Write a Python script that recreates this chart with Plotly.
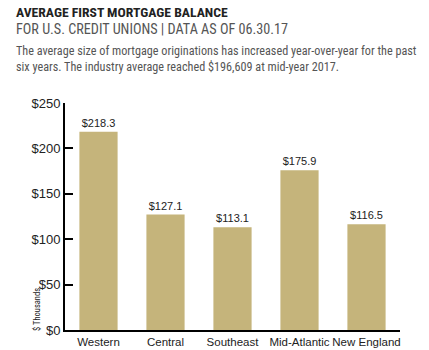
import plotly.graph_objects as go

regions = ["Western", "Central", "Southeast", "Mid-Atlantic", "New England"]
balances = [218.3, 127.1, 113.1, 175.9, 116.5]
tick_vals = [0, 50, 100, 150, 200, 250]
tick_text = ["$0", "$50", "$100", "$150", "$200", "$250"]

W, H = 429, 350
L, R, T, B = 65, 29, 103, 20
ph = H - T - B

def py(y):
    return (H - B - y) / ph

def px(x):
    return (x - L) / (W - L - R)

narrow = "Roboto Condensed, Liberation Sans, sans-serif"
sans = "Liberation Sans, Arial, sans-serif"

fig = go.Figure()
fig.add_trace(go.Bar(
    x=regions, y=balances,
    marker=dict(color="#C5B47B", line=dict(width=0)),
    text=[f"${v:.1f}" for v in balances],
    textposition="outside",
    textfont=dict(family=sans, size=11, color="#222"),
    cliponaxis=False,
))

annotations = [
    dict(text="<b>AVERAGE FIRST MORTGAGE BALANCE</b>", x=px(14), y=py(12), xanchor="left", yanchor="middle",
         font=dict(family=narrow, size=13.7, color="#222")),
    dict(text="FOR U.S. CREDIT UNIONS | DATA AS OF 06.30.17", x=px(14), y=py(28.5), xanchor="left", yanchor="middle",
         font=dict(family=narrow, size=14.2, color="#555")),
    dict(text="The average size of mortgage originations has increased year-over-year for the past",
         x=px(14), y=py(51), xanchor="left", yanchor="middle",
         font=dict(family=narrow, size=12.2, color="#555")),
    dict(text="six years. The industry average reached $196,609 at mid-year 2017.",
         x=px(14), y=py(67), xanchor="left", yanchor="middle",
         font=dict(family=narrow, size=12.2, color="#555")),
    dict(text="$ Thousands", x=px(37), y=py(310), xanchor="center", yanchor="middle", textangle=-90,
         font=dict(family=narrow, size=8.5, color="#222")),
]
for a in annotations:
    a.update(xref="paper", yref="paper", showarrow=False)

fig.update_layout(
    width=W, height=H,
    margin=dict(l=L, r=R, t=T, b=B, pad=0, autoexpand=False),
    paper_bgcolor="white", plot_bgcolor="white",
    showlegend=False,
    bargap=0.43,
    annotations=annotations,
    xaxis=dict(range=[-0.5, 4.5], showline=True, linecolor="black", linewidth=2,
               ticks="", showgrid=False, tickangle=0, automargin=False,
               tickfont=dict(family=sans, size=11.5, color="#222")),
    yaxis=dict(range=[0, 250], tickvals=tick_vals, ticktext=tick_text,
               showline=True, linecolor="black", linewidth=2,
               ticks="inside", ticklen=8, tickwidth=2, tickcolor="black",
               showgrid=False, zeroline=False, automargin=False,
               tickfont=dict(family=sans, size=13, color="#222")),
)

fig.write_html("out.html")
